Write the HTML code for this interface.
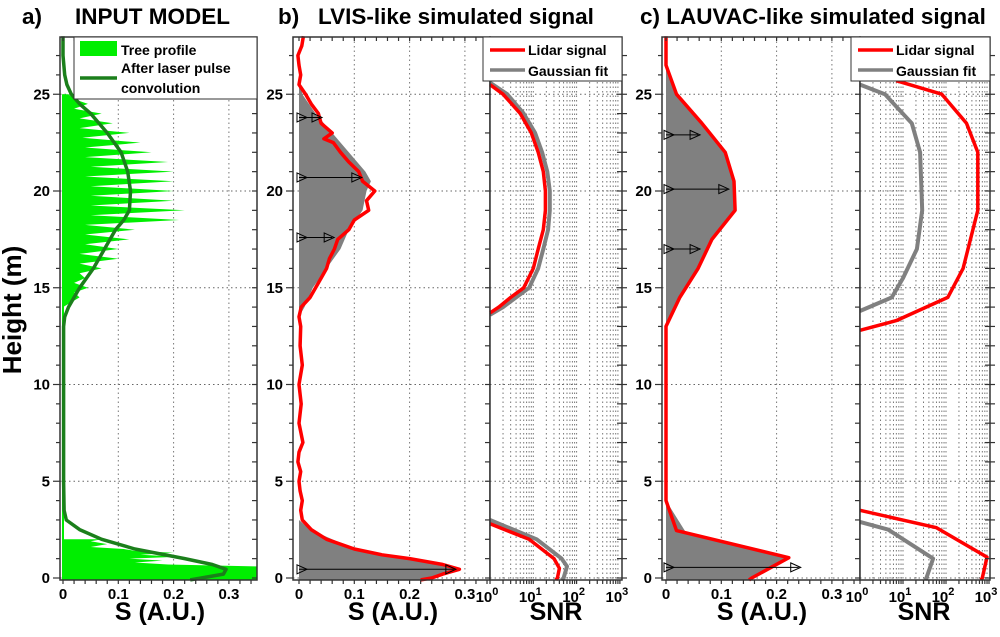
<!DOCTYPE html>
<html><head><meta charset="utf-8"><style>
body{margin:0;background:#fff;}
svg text{font-family:"Liberation Sans",Arial,sans-serif;font-weight:bold;fill:#000;}
</style></head><body>
<svg id="c" width="1000" height="632" viewBox="0 0 1000 632" xmlns="http://www.w3.org/2000/svg"></svg>
<script>
// ---- data ----
const yTicks=[0,5,10,15,20,25];
const sTicks=[0,0.1,0.2,0.3];
const sTickLabels=['0','0.1','0.2','0.3'];
const snrDecades=[0,1,2,3];
// panel a
const treeH=[25,24.75,24.5,24.25,24,23.75,23.5,23.25,23,22.75,22.5,22.25,22,21.75,21.5,21.25,21,20.75,20.5,20.25,20,19.75,19.5,19.25,19,18.75,18.5,18.25,18,17.75,17.5,17.25,17,16.75,16.5,16.25,16,15.75,15.5,15.25,15,14.75,14.5,14.25,14];
const treeV=[0.01,0.02,0.045,0.02,0.07,0.03,0.09,0.03,0.12,0.035,0.14,0.04,0.16,0.04,0.19,0.05,0.2,0.04,0.2,0.05,0.2,0.05,0.2,0.05,0.22,0.05,0.21,0.04,0.13,0.04,0.12,0.04,0.1,0.03,0.1,0.03,0.07,0.03,0.04,0.02,0.045,0.02,0.03,0.015,0.0];
const groundH=[2,1.9,1.75,1.6,1.5,1.4,1.3,1.2,1.1,1.0,0.9,0.8,0.7,0.6,0.55,0,-0.1];
const groundV=[0.07,0.05,0.08,0.05,0.11,0.13,0.2,0.14,0.21,0.12,0.18,0.13,0.19,0.35,0.35,0.35,0.35];
const convH=[28,27,26,25.5,25,24.5,24,23,22,21,20,19,18.5,18,17,16,15,14,13.5,13,10,5,3.5,3,2.5,2,1.5,1,0.7,0.45,0.2,0,-0.1];
const convV=[0,0,0.003,0.007,0.015,0.03,0.05,0.08,0.105,0.117,0.122,0.12,0.11,0.095,0.075,0.055,0.03,0.01,0.003,0.001,0.001,0.001,0.002,0.006,0.03,0.07,0.13,0.22,0.27,0.295,0.29,0.25,0.23];
// panel b
const bRedH=[28,27.5,27,26.5,26,25.5,25,24.5,24,23.5,23,22.7,22.5,22,21.5,21,20.5,20,19.5,19,18.5,18,17.5,17,16.5,16,15.5,15,14.5,14,13.5,13,12,11,10,9,8,7,6.5,6,5.5,5,4.5,4,3.5,3,2.5,2,1.5,1.2,1,0.7,0.45,0.2,0,-0.1];
const bRedV=[0.008,0.005,-0.002,0.0,0.003,0.0,0.012,0.022,0.035,0.04,0.06,0.045,0.062,0.075,0.09,0.108,0.115,0.137,0.122,0.126,0.1,0.09,0.07,0.064,0.055,0.05,0.04,0.03,0.02,0.004,0.0,0.003,0.002,0.006,0.0,0.004,0.0,0.007,0.0,-0.002,0.003,0.0,0.002,0.006,0.003,0.006,0.022,0.05,0.1,0.15,0.2,0.26,0.29,0.26,0.24,0.22];
const bFitH=[26,25,24,23,22,21,20.5,20,19,18,17,16,15,14,13.5,3,2.5,2,1.5,1,0.5,0.3,0,-0.1];
const bFitV=[0,0.006,0.03,0.06,0.09,0.12,0.13,0.122,0.115,0.09,0.075,0.05,0.025,0.01,0,0,0.02,0.06,0.1,0.2,0.28,0.28,0.23,0.22];
const bArrowH=[23.8,20.7,17.6,0.45];
const bArrowV=[0.038,0.11,0.06,0.28];
const bSnrRedH=[25.5,25,24,23,22,21,20,19,18,17,16,15,14.5,14,13.7];
const bSnrRedV=[1,2,5,9,13,17,19,19,17,13,10,6,3,1.6,1];
const bSnrFitH=[25.6,25,24,23,22,21,20,19,18,17,16,15,14.5,14,13.6];
const bSnrFitV=[1,2.5,6,11,16,21,24,24,22,17,13,8,4,2,1];
const bSnrRedGH=[2.8,2,1,0.5,0,-0.1];
const bSnrRedGV=[1,8,30,40,36,33];
const bSnrFitGH=[3,2,1,0.6,0,-0.1];
const bSnrFitGV=[1,12,45,60,50,45];
// panel c
const cRedH=[28,26.5,25,23.5,22,20.5,19,17.5,16,14.5,13,4,2.45,1.05,0,-0.1];
const cRedV=[0,0,0.019,0.065,0.107,0.123,0.125,0.083,0.058,0.025,0,0,0.019,0.222,0.155,0.15];
const cFitH=[26.5,25,23.5,22,20.5,19,17.5,16,14.5,13,4,2.4,1.05,0,-0.1];
const cFitV=[0,0.019,0.065,0.107,0.123,0.125,0.083,0.058,0.025,0,0,0.035,0.222,0.155,0.15];
const cArrowH=[22.9,20.1,17.0,0.55];
const cArrowV=[0.058,0.11,0.058,0.24];
const cSnrRedH=[25.7,25,23.5,22,19,16,14.5,13.3,12.8];
const cSnrRedV=[7,80,300,550,550,250,110,7,1];
const cSnrFitH=[25.5,25,23.5,22,19,17,15.5,14.5,13.8];
const cSnrFitV=[1,3.8,16,25,28,21,10,5.5,1];
const cSnrRedGH=[3.5,2.6,1.08,0,-0.1];
const cSnrRedGV=[1,60,900,700,650];
const cSnrFitGH=[2.9,2.5,1.0,0,-0.1];
const cSnrFitGV=[1,4.5,50,35,33];

// ---- geometry ----
const NS='http://www.w3.org/2000/svg';
const svg=document.getElementById('c');
const Y=h=>578-h*19.35;
const TOP=37,BOT=580;
function el(tag,attrs,parent){const e=document.createElementNS(NS,tag);for(const k in attrs)e.setAttribute(k,attrs[k]);(parent||svg).appendChild(e);return e;}
function linX(x0){return v=>x0+v*553;}
function logX(x0,dec){return v=>x0+Math.log10(Math.max(v,1e-9))*dec;}
function pts(H,V,fx){return H.map((h,i)=>fx(V[i]).toFixed(1)+','+Y(h).toFixed(1)).join(' ');}

function frame(name,L,R){
  const g=el('g',{});
  
  
  el('rect',{x:L,y:TOP,width:R-L,height:BOT-TOP,fill:'#fff',stroke:'none'},g);
  return g;
}
function axes(g,L,R,yLabels,xinfo){
  yTicks.forEach(t=>{el('line',{x1:L,x2:R,y1:Y(t),y2:Y(t),stroke:'#666','stroke-width':1,'stroke-dasharray':'1.5,3'},g);});
  xinfo.grid.forEach(x=>el('line',{x1:x,x2:x,y1:TOP,y2:BOT,stroke:'#777','stroke-width':1,'stroke-dasharray':'1.5,3'},g));
}
function border(g,L,R,yLabels,xinfo){
  el('rect',{x:L,y:TOP,width:R-L,height:BOT-TOP,fill:'none',stroke:'#333','stroke-width':1.5},g);
  for(let h=0;h<=27;h++){
    const y=Y(h);
    el('line',{x1:R,x2:R+(yLabels?0:5),y1:y,y2:y,stroke:'#333','stroke-width':1.2},g);
    el('line',{x1:R-5,x2:R,y1:y,y2:y,stroke:'#333','stroke-width':1.2},g);
    if(yLabels){el('line',{x1:L-(h%5==0?7:4),x2:L,y1:y,y2:y,stroke:'#333','stroke-width':1.2},g);}
  }
  if(yLabels){yTicks.forEach(t=>{const tx=el('text',{x:L-10,y:Y(t)+5,'text-anchor':'end','font-size':15},g);tx.textContent=t;});}
  xinfo.minor.forEach(x=>{el('line',{x1:x,x2:x,y1:TOP,y2:TOP+4,stroke:'#333','stroke-width':1.2},g);el('line',{x1:x,x2:x,y1:BOT,y2:BOT+4,stroke:'#333','stroke-width':1.2},g);});
}
function linInfo(x0,R){const fx=linX(x0);const grid=[0.1,0.2,0.3].map(fx);const minor=[];for(let v=0;v<=0.35001;v+=0.02){const x=fx(v);if(x<=R)minor.push(x);}return {grid,minor,fx};}
function logInfo(x0,dec){const fx=logX(x0,dec);const grid=[];const minor=[];for(let d=0;d<3;d++){for(let m=1;m<=9;m++){const x=fx(m*Math.pow(10,d));if(m>1||d>0)grid.push(x);minor.push(x);}}minor.push(fx(1000));return {grid,minor,fx};}
function sLabels(g,fx){sTicks.forEach((t,i)=>{const tx=el('text',{x:fx(t),y:599,'text-anchor':'middle','font-size':15},g);tx.textContent=sTickLabels[i];});}
function logLabels(g,fx){snrDecades.forEach(d=>{const tx=el('text',{x:fx(Math.pow(10,d))-3,y:602,'text-anchor':'middle','font-size':15},g);tx.textContent='10';const sp=el('tspan',{dy:-7,'font-size':11},tx);sp.textContent=d;});}
function title(x,txt,name){const t=el('text',{x:x,y:620,'text-anchor':'middle','font-size':25});t.textContent=txt;}
function line(g,H,V,fx,color,w,name){const p=el('polyline',{points:pts(H,V,fx),fill:'none',stroke:color,'stroke-width':w,'stroke-linejoin':'round'},g);return p;}
function fill(g,H,V,fx,color,name){const p=el('polygon',{points:fx(0)+','+Y(H[0])+' '+pts(H,V,fx)+' '+fx(0)+','+Y(H[H.length-1]),fill:color,stroke:'none'},g);}
function arrows(g,H,V,fx,name){H.forEach((h,i)=>{const a=el('g',{},g);const y=Y(h),x0=fx(0),x1=fx(V[i]);el('line',{x1:x0,x2:x1,y1:y,y2:y,stroke:'#000','stroke-width':1},a);[x0+3,x1-3].forEach(x=>el('polygon',{points:(x-5)+','+(y-4.5)+' '+(x+5)+','+y+' '+(x-5)+','+(y+4.5),fill:'none',stroke:'#000','stroke-width':1},a));});}

// ---------- Panel A ----------
{const L=60,R=257,info=linInfo(63,R);const g=frame('panel-a-input-model',L,R);const fx=info.fx;
 axes(g,L,R,true,info);
 fill(g,treeH,treeV,fx,'#00ee00','tree-profile-canopy');
 fill(g,groundH,groundV,fx,'#00ee00','tree-profile-ground');
 el('line',{x1:fx(0),x2:fx(0),y1:Y(25),y2:Y(-0.1),stroke:'#00ee00','stroke-width':2},g);
 line(g,convH,convV,fx,'#1b7f1b',3.5,'convolved-profile-line');
 border(g,L,R,true,info);sLabels(g,fx);
 const lg=el('g',{},g);
 el('rect',{x:74,y:37,width:183,height:62,fill:'#fff',stroke:'#333','stroke-width':1},lg);
 el('rect',{x:80,y:41,width:37,height:15,fill:'#00ee00'},lg);
 let t=el('text',{x:121,y:55,'font-size':14},lg);t.textContent='Tree profile';
 el('line',{x1:80,x2:117,y1:78,y2:78,stroke:'#1b7f1b','stroke-width':3.5},lg);
 t=el('text',{x:121,y:73,'font-size':14},lg);t.textContent='After laser pulse';
 t=el('text',{x:121,y:93,'font-size':14},lg);t.textContent='convolution';
 title(160,'S (A.U.)','x-axis-title-a');}

// ---------- Panel B ----------
{const L=293,R=490,info=linInfo(299,R);const g=frame('panel-b-lvis-signal',L,R);const fx=info.fx;
 axes(g,L,R,true,info);
 fill(g,bFitH,bFitV,fx,'#808080','gaussian-fit-fill-b');
 line(g,bRedH,bRedV,fx,'#ff0000',3.5,'lidar-signal-b');
 arrows(g,bArrowH,bArrowV,fx,'peak-arrow-b');
 border(g,L,R,true,info);sLabels(g,fx);
 title(393,'S (A.U.)','x-axis-title-b');}
{const L=490,R=622,info=logInfo(490,43.3);const g=frame('panel-b-snr',L,R);const fx=info.fx;
 axes(g,L,R,false,info);
 line(g,bSnrFitH,bSnrFitV,fx,'#808080',4,'snr-gaussian-fit-b');
 line(g,bSnrFitGH,bSnrFitGV,fx,'#808080',4,'snr-gaussian-fit-ground-b');
 line(g,bSnrRedH,bSnrRedV,fx,'#ff0000',3.5,'snr-lidar-b');
 line(g,bSnrRedGH,bSnrRedGV,fx,'#ff0000',3.5,'snr-lidar-ground-b');
 border(g,L,R,false,info);logLabels(g,fx);
 const lg=el('g',{},g);
 el('rect',{x:483,y:37,width:139,height:44,fill:'#fff',stroke:'#333','stroke-width':1},lg);
 el('line',{x1:490,x2:525,y1:50,y2:50,stroke:'#ff0000','stroke-width':3.5},lg);
 let t=el('text',{x:528,y:55,'font-size':14},lg);t.textContent='Lidar signal';
 el('line',{x1:490,x2:525,y1:70,y2:70,stroke:'#808080','stroke-width':3.5},lg);
 t=el('text',{x:528,y:76,'font-size':14},lg);t.textContent='Gaussian fit';
 title(556,'SNR','x-axis-title-snr-b');}

// ---------- Panel C ----------
{const L=662,R=860,info=linInfo(666,R);const g=frame('panel-c-lauvac-signal',L,R);const fx=info.fx;
 axes(g,L,R,true,info);
 fill(g,cFitH,cFitV,fx,'#808080','gaussian-fit-fill-c');
 line(g,cRedH,cRedV,fx,'#ff0000',3.5,'lidar-signal-c');
 arrows(g,cArrowH,cArrowV,fx,'peak-arrow-c');
 border(g,L,R,true,info);sLabels(g,fx);
 title(762,'S (A.U.)','x-axis-title-c');}
{const L=860,R=990,info=logInfo(860,43);const g=frame('panel-c-snr',L,R);const fx=info.fx;
 axes(g,L,R,false,info);
 line(g,cSnrFitH,cSnrFitV,fx,'#808080',4,'snr-gaussian-fit-c');
 line(g,cSnrFitGH,cSnrFitGV,fx,'#808080',4,'snr-gaussian-fit-ground-c');
 line(g,cSnrRedH,cSnrRedV,fx,'#ff0000',3.5,'snr-lidar-c');
 line(g,cSnrRedGH,cSnrRedGV,fx,'#ff0000',3.5,'snr-lidar-ground-c');
 border(g,L,R,false,info);logLabels(g,fx);
 const lg=el('g',{},g);
 el('rect',{x:851,y:37,width:139,height:44,fill:'#fff',stroke:'#333','stroke-width':1},lg);
 el('line',{x1:858,x2:893,y1:50,y2:50,stroke:'#ff0000','stroke-width':3.5},lg);
 let t=el('text',{x:896,y:55,'font-size':14},lg);t.textContent='Lidar signal';
 el('line',{x1:858,x2:893,y1:70,y2:70,stroke:'#808080','stroke-width':3.5},lg);
 t=el('text',{x:896,y:76,'font-size':14},lg);t.textContent='Gaussian fit';
 title(924,'SNR','x-axis-title-snr-c');}

// titles
[[22,'a)','panel-a-label'],[75,'INPUT MODEL','panel-a-title'],[278,'b)','panel-b-label'],[318,'LVIS-like simulated signal','panel-b-title'],[640,'c) LAUVAC-like simulated signal','panel-c-title']].forEach(d=>{
 const t=el('text',{x:d[0],y:24,'font-size':22.5});t.textContent=d[1];
 });
const yt=el('text',{x:0,y:0,'font-size':26,'text-anchor':'middle',transform:'translate(21,310) rotate(-90)'});
yt.textContent='Height (m)';


</script>
</body></html>
